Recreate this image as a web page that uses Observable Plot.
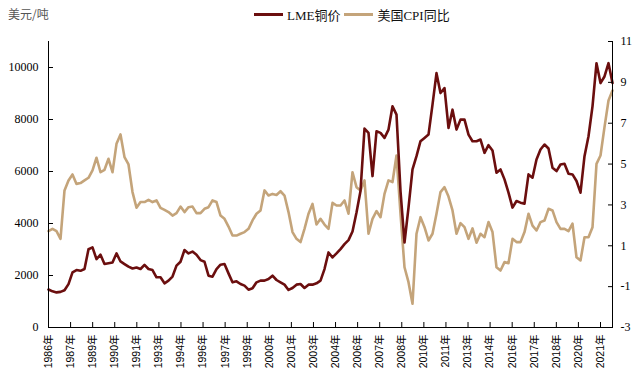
<!DOCTYPE html>
<html>
<head>
<meta charset="utf-8">
<script src="https://cdn.jsdelivr.net/npm/d3@7"></script>
<script src="https://cdn.jsdelivr.net/npm/@observablehq/plot@0.6"></script>
<style>
  html, body { margin: 0; padding: 0; background: #fff; }
  #wrap { width: 640px; height: 385px; position: relative; overflow: hidden; }
  #head { position: relative; height: 30px; width: 640px; }
  #unit { position: absolute; left: 8px; top: 5px; font: 12px "Noto Sans CJK SC", sans-serif; color: #555; }
  #legend { position: absolute; left: 254px; top: 5px; display: flex; align-items: center; font: 13px "Liberation Serif", "Noto Sans CJK SC", serif; color: #111; white-space: nowrap; }
  .sw { display: inline-block; width: 29px; height: 3px; margin-right: 4px; }
  .item { display: flex; align-items: center; margin-right: 4px; }
</style>
</head>
<body>
<div id="wrap">
  <div id="head">
    <div id="unit">美元/吨</div>
    <div id="legend"></div>
  </div>
  <div id="chart"></div>
</div>
<script>
// Series names and colours
const seriesNames = ["LME铜价", "美国CPI同比"];
const seriesColors = ["#6b0e0e", "#c4a47a"];

// LME copper price (USD/t) at evenly spaced points
const copper = [
  1460, 1390, 1350, 1370, 1430, 1670, 2120, 2210, 2180, 2250,
  3010, 3080, 2630, 2800, 2440, 2470, 2500, 2850, 2540, 2440,
  2340, 2270, 2310, 2250, 2410, 2250, 2210, 1930, 1930, 1700,
  1800, 1960, 2380, 2530, 2980, 2850, 2920, 2797, 2593, 2529,
  1993, 1955, 2248, 2414, 2440, 2082, 1737, 1776, 1673, 1610,
  1456, 1507, 1737, 1801, 1801, 1865, 1993, 1827, 1737, 1648,
  1444, 1520, 1648, 1673, 1520, 1648, 1648, 1699, 1801, 2248,
  2887, 2695, 2849, 3015, 3206, 3360, 3692, 4420, 5250, 7650,
  7484, 5824, 7548, 7484, 7293, 7612, 8506, 8187, 5250, 3270,
  4611, 6080, 6590, 7165, 7293, 7420, 8570, 9783, 9017, 9208,
  7676, 8378, 7612, 7995, 7995, 7420, 7165, 7165, 7229, 6718,
  7012, 6808, 5952, 6080, 5697, 5186, 4611, 4866, 4802, 4764,
  5888, 5760, 6463, 6846, 7037, 6884, 6143, 6016, 6271, 6297,
  5914, 5888, 5633, 5186, 6590, 7357, 8506, 10166, 9400, 9655,
  10166, 9400
];

// US CPI YoY (%) at the same points
const cpi = [
  1.72, 1.83, 1.72, 1.34, 3.71, 4.20, 4.49, 4.03, 4.07, 4.20,
  4.33, 4.69, 5.31, 4.60, 4.72, 5.26, 4.60, 5.99, 6.45, 5.34,
  4.98, 3.63, 2.86, 3.14, 3.14, 3.25, 3.14, 3.22, 2.86, 2.76,
  2.65, 2.48, 2.60, 2.92, 2.65, 2.89, 2.92, 2.60, 2.60, 2.81,
  2.89, 3.22, 3.14, 2.48, 2.32, 1.94, 1.50, 1.50, 1.59, 1.67,
  1.83, 2.24, 2.57, 2.73, 3.71, 3.46, 3.54, 3.49, 3.67, 3.46,
  2.65, 1.67, 1.34, 1.18, 1.83, 2.57, 3.05, 2.04, 2.32, 2.04,
  1.83, 3.10, 2.97, 2.97, 3.22, 2.57, 4.60, 3.87, 3.71, 4.20,
  1.59, 2.32, 2.70, 2.40, 3.54, 4.20, 4.12, 5.42, 2.57, -0.05,
  -0.78, -1.84, 1.59, 2.40, 1.91, 1.26, 1.59, 2.57, 3.63, 3.87,
  3.41, 2.73, 1.59, 2.11, 1.91, 1.34, 1.85, 1.15, 1.59, 1.42,
  2.16, 1.67, -0.05, -0.21, 0.20, 0.15, 1.34, 1.18, 1.18, 1.67,
  2.57, 1.99, 1.75, 2.16, 2.24, 2.81, 2.73, 2.16, 1.83, 1.83,
  1.72, 2.08, 0.44, 0.28, 1.42, 1.42, 1.91, 5.01, 5.42, 6.81,
  8.11, 8.60
];

// Axis tick labels
const xTickLabels = ["1986年","1987年","1989年","1990年","1991年","1993年","1994年","1996年","1997年","1999年","2000年","2001年","2003年","2004年","2006年","2007年","2008年","2010年","2011年","2013年","2014年","2016年","2017年","2018年","2020年","2021年"];
const leftTicks = [0, 2000, 4000, 6000, 8000, 10000];
const rightTicks = [-3, -1, 1, 3, 5, 7, 9, 11];

const leftDomain = [0, 11000];
const rightDomain = [-3, 11];

// map right-axis values onto the left scale
const toLeft = v => leftDomain[0] + (v - rightDomain[0]) / (rightDomain[1] - rightDomain[0]) * (leftDomain[1] - leftDomain[0]);
const fromLeft = v => rightDomain[0] + (v - leftDomain[0]) / (leftDomain[1] - leftDomain[0]) * (rightDomain[1] - rightDomain[0]);

const N = copper.length;
const copperData = copper.map((v, i) => ({i, v}));
const cpiData = cpi.map((v, i) => ({i, v: toLeft(v)}));

// tick positions: labels are evenly spaced along the axis (about 22 px apart on a 564 px axis)
const tickStep = (N - 1) * 22.08 / 564;
const xTicks = xTickLabels.map((_, k) => k * tickStep);

const serif = "Liberation Serif, Times New Roman, serif";

const chart = Plot.plot({
  width: 640,
  height: 355,
  marginTop: 11,
  marginBottom: 58,
  marginLeft: 48,
  marginRight: 28,
  style: {fontFamily: serif, fontSize: "12px", background: "white", color: "#000"},
  x: {domain: [0, N - 1], axis: null, label: null},
  y: {domain: leftDomain, axis: null, label: null},
  marks: [
    Plot.line(cpiData, {x: "i", y: "v", stroke: seriesColors[1], strokeWidth: 2.6, strokeLinejoin: "round"}),
    Plot.line(copperData, {x: "i", y: "v", stroke: seriesColors[0], strokeWidth: 2.6, strokeLinejoin: "round"}),
    Plot.ruleY([leftDomain[0]], {stroke: "#000", strokeWidth: 1}),
    Plot.ruleX([0, N - 1], {stroke: "#000", strokeWidth: 1}),
    Plot.axisY(leftTicks, {anchor: "left", label: null, tickSize: -5, tickPadding: 15, tickFormat: d => String(d), fontFamily: serif, fontSize: 12, stroke: "#000"}),
    Plot.axisY(rightTicks.map(toLeft), {anchor: "right", label: null, tickSize: -5, tickPadding: 13, tickFormat: d => String(Math.round(fromLeft(d))), fontFamily: serif, fontSize: 12, textAnchor: "start", stroke: "#000"}),
    Plot.axisX(xTicks, {anchor: "bottom", label: null, tickSize: -5, tickPadding: 12, tickRotate: -90, tickFormat: (d, k) => xTickLabels[k], fontFamily: "Liberation Sans, Noto Sans CJK SC, sans-serif", fontSize: 10.5, stroke: "#000"})
  ]
});
document.getElementById("chart").appendChild(chart);

// legend
const legend = document.getElementById("legend");
seriesNames.forEach((name, j) => {
  const item = document.createElement("span");
  item.className = "item";
  const sw = document.createElement("span");
  sw.className = "sw";
  sw.style.background = seriesColors[j];
  item.appendChild(sw);
  const t = document.createElement("span");
  t.textContent = name;
  item.appendChild(t);
  legend.appendChild(item);
});
</script>
</body>
</html>
